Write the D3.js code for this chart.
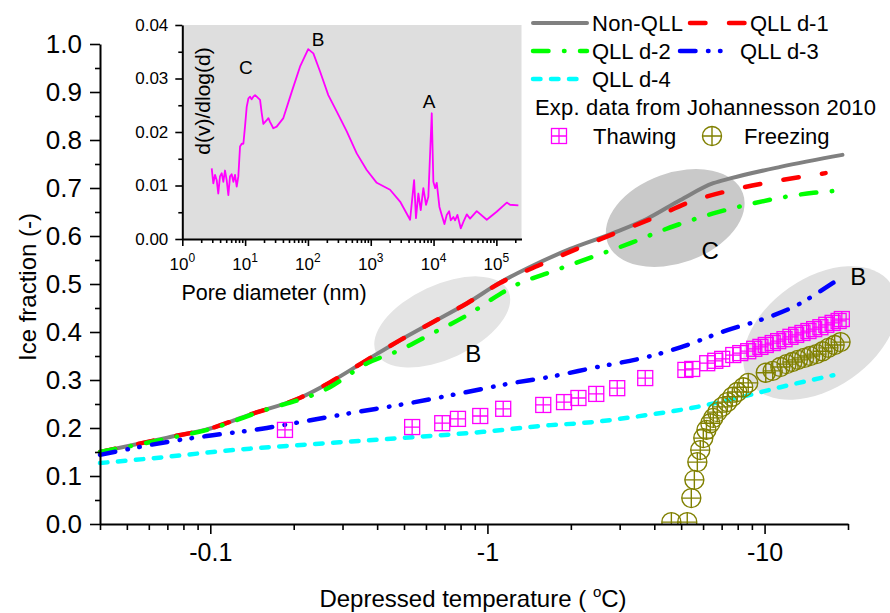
<!DOCTYPE html>
<html>
<head>
<meta charset="utf-8">
<script src="https://cdn.jsdelivr.net/npm/d3@7"></script>
<style>
  body { margin: 0; background: #fff; }
  svg, svg text { font-family: "Liberation Sans", Arial, sans-serif; }
</style>
</head>
<body>
<div id="vis"></div>
<script>
// ---- data: [temperature (°C), ice fraction] ----
const nonQLL = [[-0.04,0.150],[-0.07,0.180],[-0.1,0.199],[-0.139,0.228],[-0.211,0.263],[-0.27,0.295],[-0.368,0.342],[-0.484,0.383],[-0.637,0.421],[-0.845,0.46],[-1.11,0.503],[-1.43,0.536],[-1.99,0.573],[-2.84,0.606],[-3.77,0.636],[-4.97,0.675],[-6.53,0.71],[-7.52,0.72],[-11.4,0.744],[-19.1,0.769]];
const qllD1 = [[-0.04,0.150],[-0.07,0.180],[-0.1,0.199],[-0.139,0.228],[-0.211,0.263],[-0.27,0.295],[-0.368,0.342],[-0.484,0.383],[-0.637,0.421],[-0.845,0.46],[-1.11,0.502],[-1.55,0.540],[-2.16,0.576],[-2.84,0.604],[-3.97,0.6375],[-5.39,0.671],[-7.65,0.696],[-11.1,0.715],[-16.6,0.731]];
const qllD2 = [[-0.04,0.150],[-0.07,0.178],[-0.1,0.198],[-0.151,0.234],[-0.27,0.285],[-0.368,0.335],[-0.484,0.3625],[-0.637,0.398],[-0.845,0.435],[-1.11,0.479],[-1.24,0.495],[-1.73,0.527],[-2.49,0.56],[-3.28,0.585],[-4.31,0.6125],[-6.53,0.647],[-9.1,0.668],[-15.0,0.69],[-18.0,0.694]];
const qllD3 = [[-0.04,0.144],[-0.07,0.171],[-0.102,0.185],[-0.16,0.2],[-0.183,0.206],[-0.32,0.231],[-0.526,0.252],[-0.845,0.275],[-1.24,0.294],[-1.59,0.304],[-2.49,0.327],[-3.77,0.348],[-4.97,0.368],[-7.34,0.404],[-9.66,0.425],[-13.5,0.46],[-15.5,0.481],[-18.8,0.5125]];
const qllD4 = [[-0.04,0.127],[-0.07,0.14],[-0.102,0.15],[-0.139,0.157],[-0.194,0.163],[-0.484,0.179],[-0.966,0.192],[-1.69,0.206],[-2.16,0.21],[-3.77,0.227],[-5.72,0.244],[-7.97,0.2625],[-11.4,0.285],[-17.7,0.31]];

// Johannesson 2010 experimental points
const thawing = [[-0.186,0.196],[-0.535,0.202],[-0.687,0.21],[-0.783,0.219],[-0.942,0.225],[-1.14,0.24],[-1.59,0.248],[-1.89,0.254],[-2.13,0.2625],[-2.47,0.271],[-2.94,0.283],[-3.71,0.304],[-5.18,0.321],[-5.48,0.323],[-6.21,0.335],[-6.64,0.34],[-7.03,0.344],[-7.71,0.352],[-8.17,0.356],[-8.73,0.360],[-9.18,0.365],[-9.66,0.369],[-10.1,0.373],[-10.7,0.377],[-11.2,0.381],[-11.8,0.385],[-12.4,0.39],[-13.0,0.394],[-13.7,0.398],[-14.4,0.402],[-15.1,0.406],[-15.9,0.41],[-16.7,0.415],[-17.6,0.419],[-18.5,0.423],[-19.0,0.427]];
const freezing = [[-4.61,0.004],[-5.26,0.004],[-5.44,0.054],[-5.58,0.092],[-5.72,0.129],[-5.86,0.154],[-6.01,0.179],[-6.17,0.196],[-6.37,0.21],[-6.53,0.221],[-6.75,0.233],[-7.03,0.244],[-7.34,0.254],[-7.65,0.265],[-7.97,0.275],[-8.38,0.285],[-8.73,0.294],[-10.1,0.315],[-10.7,0.319],[-11.4,0.327],[-12.0,0.333],[-12.6,0.3375],[-13.2,0.342],[-13.9,0.346],[-14.6,0.35],[-15.4,0.354],[-16.2,0.36],[-17.0,0.367],[-17.9,0.373],[-18.8,0.379]];

// highlighted regions and their letters
const regionCenters = [[-0.687,0.421],[-4.76,0.6375],[-15.9,0.398]];
const regionLabels = [["B",-0.889,0.356],["C",-6.37,0.571],["B",-21.8,0.515]];

// inset: pore size distribution [diameter (nm), d(v)/dlog(d)]
const poreDist = [[2.94,0.0132],[3.12,0.0104],[3.32,0.0120],[3.53,0.0110],[3.74,0.0085],[3.98,0.0117],[4.24,0.0123],[4.50,0.0107],[4.78,0.0128],[5.09,0.0110],[5.41,0.0082],[5.75,0.0117],[6.11,0.0121],[6.50,0.0107],[6.91,0.0120],[7.35,0.0098],[7.80,0.0117],[8.30,0.0173],[8.83,0.0178],[9.38,0.0178],[9.96,0.0210],[10.6,0.0247],[11.3,0.0263],[12.0,0.0266],[12.7,0.0261],[13.5,0.0266],[14.4,0.0269],[15.3,0.0266],[17.3,0.0260],[18.4,0.0235],[19.5,0.0215],[22.1,0.0222],[23.5,0.0226],[24.9,0.0219],[28.1,0.0207],[31.8,0.0210],[40.6,0.0226],[55.2,0.0275],[74.8,0.0322],[101,0.0355],[122,0.0347],[156,0.0313],[211,0.0269],[288,0.0238],[415,0.0201],[598,0.0160],[863,0.0129],[1247,0.0105],[2030,0.0092],[2930,0.0070],[4230,0.0036],[4900,0.0110],[5250,0.0039],[5730,0.0085],[6250,0.0054],[6880,0.0095],[7590,0.0064],[8260,0.0079],[9360,0.0235],[9930,0.0107],[10600,0.0095],[11240,0.0105],[12400,0.0060],[13500,0.0045],[14900,0.0028],[16200,0.0045],[17700,0.0052],[18800,0.0035],[20700,0.0041],[22000,0.0035],[24000,0.0045],[27100,0.0020],[30600,0.0035],[33800,0.0046],[38100,0.0038],[48700,0.0052],[70300,0.0036],[101000,0.0051],[146500,0.0068],[165000,0.0064],[224000,0.0063]];
const insetLabels = [["C",10.3,0.0321],["B",145,0.0374],["A",8500,0.0258]];

// tick values
const xMajor = [-0.1, -1, -10];
const yMajor = [0, 0.1, 0.2, 0.3, 0.4, 0.5, 0.6, 0.7, 0.8, 0.9, 1.0];
const yMinor = [0.05, 0.15, 0.25, 0.35, 0.45, 0.55, 0.65, 0.75, 0.85, 0.95];
const ixMajor = [1, 10, 100, 1000, 10000, 100000];
const ixExp = ["0", "1", "2", "3", "4", "5"];
const iyMajor = [0, 0.01, 0.02, 0.03, 0.04];
const iyMinor = [0.005, 0.015, 0.025, 0.035];

const width = 890, height = 613;
const FONT = '"Liberation Sans", Arial, Helvetica, sans-serif';

const svg = d3.select('#vis')
    .append('svg')
    .attr('width', width)
    .attr('height', height)
    .attr('font-family', FONT);

const x = d3.scaleLog().domain([-0.04, -20]).range([100, 848]);
const y = d3.scaleLinear().domain([0, 1]).range([524, 44]);

svg.append('clipPath').attr('id', 'plotclip')
    .append('rect').attr('x', 100).attr('y', 0).attr('width', 790).attr('height', 524);

// grey ellipses
const ellStyle = [
    { rx: 73, ry: 37, rot: -25, fill: '#e4e4e4' },
    { rx: 72, ry: 45, rot: -20, fill: '#c9c9c9' },
    { rx: 86, ry: 55, rot: -35, fill: '#e0e0e0' }
];
svg.append('g').selectAll('ellipse')
    .data(regionCenters)
    .join('ellipse')
    .attr('transform', (d, i) => `translate(${x(d[0])},${y(d[1])}) rotate(${ellStyle[i].rot})`)
    .attr('rx', (d, i) => ellStyle[i].rx)
    .attr('ry', (d, i) => ellStyle[i].ry)
    .attr('fill', (d, i) => ellStyle[i].fill);

// model curves
const line = d3.line()
    .x(d => x(d[0]))
    .y(d => y(d[1]))
    .curve(d3.curveMonotoneX);

const series = [
    { name: 'Non-QLL', data: nonQLL, color: '#808080', dash: null, w: 4 },
    { name: 'QLL d-1', data: qllD1, color: '#ff0000', dash: '15.5,23.5', w: 4.5 },
    { name: 'QLL d-2', data: qllD2, color: '#00ff00', dash: '15.5,15.5,0.5,15.5', w: 4.5 },
    { name: 'QLL d-3', data: qllD3, color: '#0000ff', dash: '15.5,12.5,0.5,11.5,0.5,12.5', w: 4.5 },
    { name: 'QLL d-4', data: qllD4, color: '#00ffff', dash: '7.5,10.5', w: 4.5 }
];

svg.append('g').selectAll('path')
    .data(series)
    .join('path')
    .attr('d', d => line(d.data))
    .attr('fill', 'none')
    .attr('stroke', d => d.color)
    .attr('stroke-width', d => d.w)
    .attr('stroke-linecap', 'round')
    .attr('stroke-dasharray', d => d.dash);

// markers
function squareMark(g, s, color) {
    g.append('rect').attr('x', -s / 2).attr('y', -s / 2).attr('width', s).attr('height', s)
        .attr('fill', 'none').attr('stroke', color).attr('stroke-width', 1.3);
    g.append('path').attr('d', `M${-s / 2},0H${s / 2}M0,${-s / 2}V${s / 2}`)
        .attr('stroke', color).attr('stroke-width', 1.3);
}
function circleMark(g, r, color) {
    g.append('circle').attr('r', r).attr('fill', 'none').attr('stroke', color).attr('stroke-width', 1.4);
    g.append('path').attr('d', `M${-r},0H${r}M0,${-r}V${r}`)
        .attr('stroke', color).attr('stroke-width', 1.4);
}

const marks = svg.append('g').attr('clip-path', 'url(#plotclip)');
marks.selectAll('g.thaw')
    .data(thawing)
    .join('g')
    .attr('class', 'thaw')
    .attr('transform', d => `translate(${x(d[0])},${y(d[1])})`)
    .each(function () { squareMark(d3.select(this), 15, '#ff00ff'); });
marks.selectAll('g.frz')
    .data(freezing)
    .join('g')
    .attr('class', 'frz')
    .attr('transform', d => `translate(${x(d[0])},${y(d[1])})`)
    .each(function () { circleMark(d3.select(this), 9.5, '#808000'); });

// region letters
svg.append('g').selectAll('text')
    .data(regionLabels)
    .join('text')
    .attr('x', d => x(d[1]))
    .attr('y', d => y(d[2]))
    .attr('dy', '0.36em')
    .attr('text-anchor', 'middle')
    .attr('font-size', 24)
    .text(d => d[0]);

// axes
const yAxis = svg.append('g')
    .attr('transform', 'translate(100,0)')
    .call(d3.axisLeft(y).tickValues(yMajor).tickSize(10).tickSizeOuter(0).tickPadding(8)
        .tickFormat(d3.format('.1f')));
svg.append('g')
    .attr('transform', 'translate(100,0)')
    .call(d3.axisLeft(y).tickValues(yMinor).tickSize(5).tickFormat(''))
    .call(g => g.select('.domain').remove());

const xMinor = x.ticks().filter(t => !xMajor.some(m => Math.abs(m - t) < 1e-9));
const xAxis = svg.append('g')
    .attr('transform', 'translate(0,524)')
    .call(d3.axisBottom(x).tickValues(xMajor).tickSize(10).tickSizeOuter(0).tickPadding(9)
        .tickFormat(d => String(d)));
svg.append('g')
    .attr('transform', 'translate(0,524)')
    .call(d3.axisBottom(x).tickValues(xMinor).tickSize(6).tickFormat(''))
    .call(g => g.select('.domain').remove());

yAxis.selectAll('text').attr('font-size', 26);
xAxis.selectAll('text').attr('font-size', 25);

svg.append('text')
    .attr('transform', 'translate(36,287) rotate(-90)')
    .attr('text-anchor', 'middle')
    .attr('font-size', 24)
    .text('Ice fraction (-)');

const xt = svg.append('text')
    .attr('x', 473).attr('y', 607)
    .attr('text-anchor', 'middle')
    .attr('font-size', 24);
xt.append('tspan').text('Depressed temperature ( ');
xt.append('tspan').attr('dy', -10).attr('font-size', 15).text('o');
xt.append('tspan').attr('dy', 10).text('C)');

// ---- inset ----
const xi = d3.scaleLog().domain([1, Math.pow(10, 5.4)]).range([182.3, 521.5]);
const yi = d3.scaleLinear().domain([0, 0.04]).range([239, 25]);

svg.append('rect')
    .attr('x', xi.range()[0]).attr('y', yi.range()[1])
    .attr('width', xi.range()[1] - xi.range()[0])
    .attr('height', yi.range()[0] - yi.range()[1])
    .attr('fill', '#dedede');

svg.append('path')
    .datum(poreDist)
    .attr('d', d3.line().x(d => xi(d[0])).y(d => yi(d[1])))
    .attr('fill', 'none')
    .attr('stroke', '#ff00ff')
    .attr('stroke-width', 1.8)
    .attr('stroke-linejoin', 'round');

svg.append('g').selectAll('text')
    .data(insetLabels)
    .join('text')
    .attr('x', d => xi(d[1]))
    .attr('y', d => yi(d[2]))
    .attr('dy', '0.36em')
    .attr('text-anchor', 'middle')
    .attr('font-size', 19)
    .text(d => d[0]);

const iyAxis = svg.append('g')
    .attr('transform', `translate(${xi.range()[0]},0)`)
    .call(d3.axisLeft(yi).tickValues(iyMajor).tickSize(7).tickSizeOuter(0).tickPadding(7)
        .tickFormat(d3.format('.2f')));
svg.append('g')
    .attr('transform', `translate(${xi.range()[0]},0)`)
    .call(d3.axisLeft(yi).tickValues(iyMinor).tickSize(4).tickFormat(''))
    .call(g => g.select('.domain').remove());
iyAxis.selectAll('text').attr('font-size', 17);

const ixMinor = xi.ticks().filter(t => !ixMajor.includes(t));
svg.append('g')
    .attr('transform', 'translate(0,239)')
    .call(d3.axisBottom(xi).tickValues(ixMajor).tickSize(7).tickSizeOuter(0).tickFormat(''));
svg.append('g')
    .attr('transform', 'translate(0,239)')
    .call(d3.axisBottom(xi).tickValues(ixMinor).tickSize(4).tickFormat(''))
    .call(g => g.select('.domain').remove());

// common axis styling; drop d3's "sans-serif" so the Arial-like font is used
svg.selectAll('.domain').attr('stroke-width', 2);
svg.selectAll('.tick line').attr('stroke-width', 1.6);
svg.selectAll('g[font-family]').attr('font-family', FONT);

const ixLab = svg.append('g').selectAll('text')
    .data(ixMajor)
    .join('text')
    .attr('x', d => xi(d))
    .attr('y', 270)
    .attr('text-anchor', 'middle')
    .attr('font-size', 17);
ixLab.append('tspan').text('10');
ixLab.append('tspan').attr('dy', -8).attr('font-size', 12).text((d, i) => ixExp[i]);

svg.append('text')
    .attr('x', 274).attr('y', 300)
    .attr('text-anchor', 'middle')
    .attr('font-size', 21.5)
    .text('Pore diameter (nm)');

svg.append('text')
    .attr('transform', 'translate(210,101) rotate(-90)')
    .attr('text-anchor', 'middle')
    .attr('font-size', 21)
    .text('d(v)/dlog(d)');

// ---- legend ----
const legendRows = [
    { s: 0, x1: 533, x2: 587, tx: 592, cy: 23, len: 91 },
    { s: 1, x1: 690, x2: 747, tx: 750, cy: 23 },
    { s: 2, x1: 533, x2: 587, tx: 592, cy: 51 },
    { s: 3, x1: 680, x2: 733, tx: 740, cy: 51 },
    { s: 4, x1: 533, x2: 587, tx: 592, cy: 79 }
];
const leg = svg.append('g');
legendRows.forEach(r => {
    const s = series[r.s];
    leg.append('line')
        .attr('x1', r.x1).attr('x2', r.x2).attr('y1', r.cy).attr('y2', r.cy)
        .attr('stroke', s.color).attr('stroke-width', s.w)
        .attr('stroke-linecap', 'round')
        .attr('stroke-dasharray', s.dash);
    const t = leg.append('text')
        .attr('x', r.tx).attr('y', r.cy).attr('dy', '0.36em')
        .attr('font-size', 22)
        .text(s.name);
    if (r.len) t.attr('textLength', r.len).attr('lengthAdjust', 'spacing');
});
leg.append('text')
    .attr('x', 535).attr('y', 107).attr('dy', '0.36em')
    .attr('font-size', 22)
    .attr('textLength', 341).attr('lengthAdjust', 'spacing')
    .text('Exp. data from Johannesson 2010');
squareMark(leg.append('g').attr('transform', 'translate(559,136)'), 15, '#ff00ff');
leg.append('text').attr('x', 593).attr('y', 136).attr('dy', '0.36em').attr('font-size', 22).text('Thawing');
circleMark(leg.append('g').attr('transform', 'translate(712,136)'), 9.5, '#808000');
leg.append('text').attr('x', 744).attr('y', 136).attr('dy', '0.36em').attr('font-size', 22).text('Freezing');
</script>
</body>
</html>
